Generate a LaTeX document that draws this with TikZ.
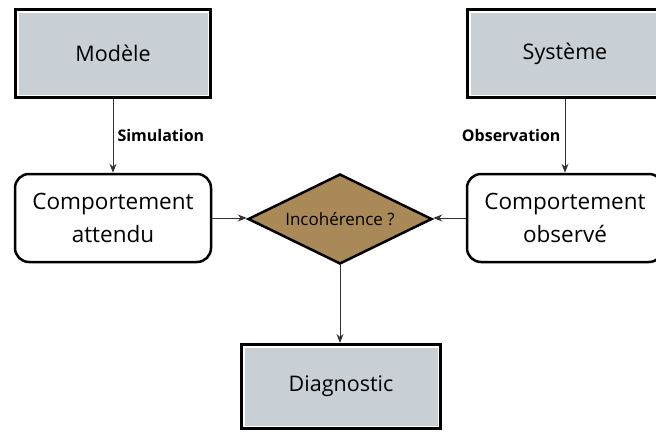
\documentclass[tikz,border=0pt]{standalone}
\usepackage{fontspec}
\setmainfont{Open Sans}
\usetikzlibrary{shapes.geometric,arrows.meta}
\definecolor{gris}{RGB}{200,207,213}
\definecolor{bronze}{RGB}{170,137,88}
\definecolor{trait}{RGB}{50,50,50}
\begin{document}
\begin{tikzpicture}[x=1pt,y=-1pt,
                       grey node/.style={rectangle,fill=gris,draw=black,line width=3pt,
                         minimum width=195pt,minimum height=88pt,inner sep=0pt,font=\fontsize{21.5}{25}\selectfont,
                         path picture={\draw[white,line width=6pt] (path picture bounding box.south west) rectangle (path picture bounding box.north east);}},
                       round node/.style={rectangle,rounded corners=14pt,fill=white,draw=black,line width=2.5pt,
                         minimum width=196pt,minimum height=88pt,inner sep=0pt,align=center,
                         font=\fontsize{22.5}{33}\selectfont},
                       test node/.style={diamond,aspect=2.07,fill=bronze,draw=black,line width=2.5pt,
                         minimum width=184pt,minimum height=90pt,inner sep=0pt,font=\fontsize{17}{20}\selectfont},
                       fleche/.style={draw=trait,line width=1pt,-{Stealth[length=9pt,width=7pt]}},
                       etiquette/.style={font=\bfseries\fontsize{16}{19}\selectfont,inner sep=4pt}
                      ]
  \useasboundingbox (0,0) rectangle (656,434);
  \node[grey node] (modele) at (113,53.5) {Modèle};
  \node[grey node] (systeme) at (565,53.5) {Système};
  \node[round node] (attendu) at (113,218) {Comportement\\attendu};
  \node[round node] (observe) at (565,218) {Comportement\\observé};
  \node[test node] (incoherence) at (340,219) {Incohérence ?};
  \node[grey node,minimum width=199pt,minimum height=84pt] (diagnostic) at (341,386.5) {Diagnostic};

  \path%
   (modele) edge [fleche] node[etiquette,right] {Simulation} (attendu)
   (systeme) edge [fleche] node[etiquette,left] {Observation} (observe)
   (attendu) edge [fleche] (attendu -| incoherence.west)
   (observe) edge [fleche] (observe -| incoherence.east)
   (incoherence.south) edge [fleche] (incoherence.south |- diagnostic.north);
 \end{tikzpicture}
\end{document}
